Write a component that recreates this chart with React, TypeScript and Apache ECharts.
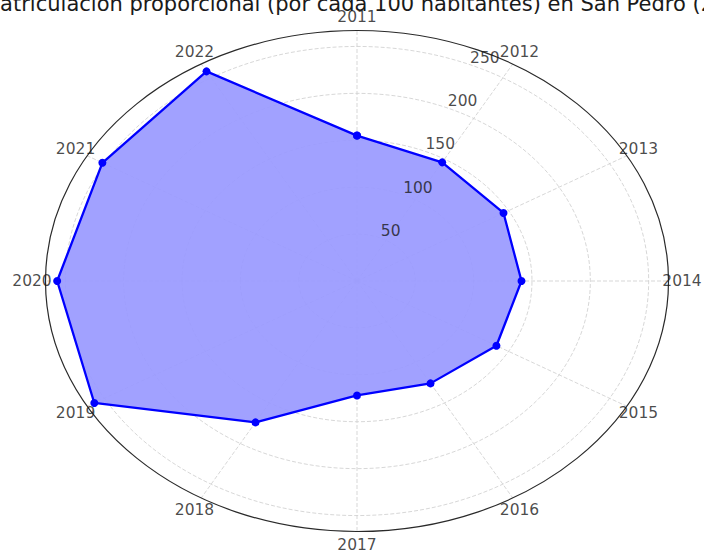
import React, { useEffect, useRef } from "react";
import * as echarts from "echarts";

const titleText = "Matriculación proporcional (por cada 100 habitantes) en San Pedro (2011-2022)";
const categories = ["2011", "2012", "2013", "2014", "2015", "2016", "2017", "2018", "2019", "2020", "2021", "2022"];
const values = [155, 146, 145, 141, 138, 126, 122, 174, 260, 257, 252, 258];
const ringTicks = [50, 100, 150, 200, 250];
const rMax = 267;
const rLabelAngleDeg = 22.5;

const FONT = "DejaVu Sans";

export default function App() {
  const ref = useRef<HTMLDivElement>(null);
  useEffect(() => {
    document.body.style.margin = "0";
    if (!ref.current) return;
    const chart = echarts.init(ref.current, undefined, { renderer: "svg" });
    const n = categories.length;
    const ang = (i: number) => (i * 2 * Math.PI) / n;
    const toXY = (r: number, a: number) => [r * Math.sin(a), r * Math.cos(a)];

    const points = values.map((v, i) => toXY(v, ang(i)));
    const linePts = points.concat([points[0]]);
    const labelPad = 13.5;
    const gridStyle = { stroke: "#d2d2d2", lineWidth: 0.9, lineDash: [4, 2] };

    const option: any = {
      animation: false,
      grid: { left: 45.5, right: 35.5, top: 30.5, bottom: 18.5 },
      xAxis: { type: "value", min: -rMax, max: rMax, show: false },
      yAxis: { type: "value", min: -rMax, max: rMax, show: false },
      graphic: [
        {
          type: "text",
          x: -18,
          y: 3.5,
          style: {
            text: titleText,
            fontSize: 21,
            fontFamily: FONT,
            fill: "#1a1a1a",
            align: "left",
            verticalAlign: "middle",
          },
        },
      ],
      series: [
        {
          type: "custom",
          coordinateSystem: "cartesian2d",
          z: 1,
          silent: true,
          data: ringTicks.map((r) => [r, 0]),
          renderItem: (params: any, api: any) => {
            const r = api.value(0);
            const c = api.coord([0, 0]);
            const s = api.size([r, r]);
            return {
              type: "ellipse",
              shape: { cx: c[0], cy: c[1], rx: s[0], ry: s[1] },
              style: { fill: "none", ...gridStyle },
            };
          },
        },
        {
          type: "custom",
          coordinateSystem: "cartesian2d",
          z: 1,
          silent: true,
          data: categories.map((_, i) => [i, 0]),
          renderItem: (params: any, api: any) => {
            const i = api.value(0);
            const c = api.coord([0, 0]);
            const e = api.coord(toXY(rMax, ang(i)));
            return {
              type: "line",
              shape: { x1: c[0], y1: c[1], x2: e[0], y2: e[1] },
              style: { ...gridStyle },
            };
          },
        },
        {
          type: "custom",
          coordinateSystem: "cartesian2d",
          z: 2,
          silent: true,
          data: [[0, 0]],
          renderItem: (params: any, api: any) => {
            const pts = points.map((p) => api.coord(p));
            return {
              type: "polygon",
              shape: { points: pts },
              style: { fill: "rgba(153,153,255,0.92)", stroke: "none" },
            };
          },
        },
        {
          type: "line",
          z: 3,
          data: linePts,
          symbol: "circle",
          symbolSize: 8,
          itemStyle: { color: "#0000ff" },
          lineStyle: { color: "#0000ff", width: 2.3 },
          silent: true,
        },
        {
          type: "custom",
          coordinateSystem: "cartesian2d",
          z: 4,
          silent: true,
          data: [[rMax, 0]],
          renderItem: (params: any, api: any) => {
            const r = api.value(0);
            const c = api.coord([0, 0]);
            const s = api.size([r, r]);
            return {
              type: "ellipse",
              shape: { cx: c[0], cy: c[1], rx: s[0], ry: s[1] },
              style: { fill: "none", stroke: "#2a2a2a", lineWidth: 1.2 },
            };
          },
        },
        {
          type: "scatter",
          z: 5,
          symbolSize: 0,
          silent: true,
          data: categories.map((name, i) => {
            const a = ang(i);
            return {
              name,
              value: toXY(rMax, a),
              label: {
                show: true,
                position: "inside",
                offset: [labelPad * Math.sin(a), -labelPad * Math.cos(a)],
                formatter: name,
                fontSize: 15.5,
                fontFamily: FONT,
                color: "#1a1a1a",
              },
            };
          }),
        },
        {
          type: "scatter",
          z: 5,
          symbolSize: 0,
          silent: true,
          data: ringTicks.map((r) => ({
            value: toXY(r, (rLabelAngleDeg * Math.PI) / 180),
            label: {
              show: true,
              position: [1.5, -6.5],
              align: "left",
              verticalAlign: "middle",
              formatter: String(r),
              fontSize: 15.5,
              fontFamily: FONT,
              color: "#1a1a1a",
            },
          })),
        },
      ],
    };
    chart.setOption(option);
    return () => chart.dispose();
  }, []);
  return <div ref={ref} style={{ width: 704, height: 550 }} />;
}
